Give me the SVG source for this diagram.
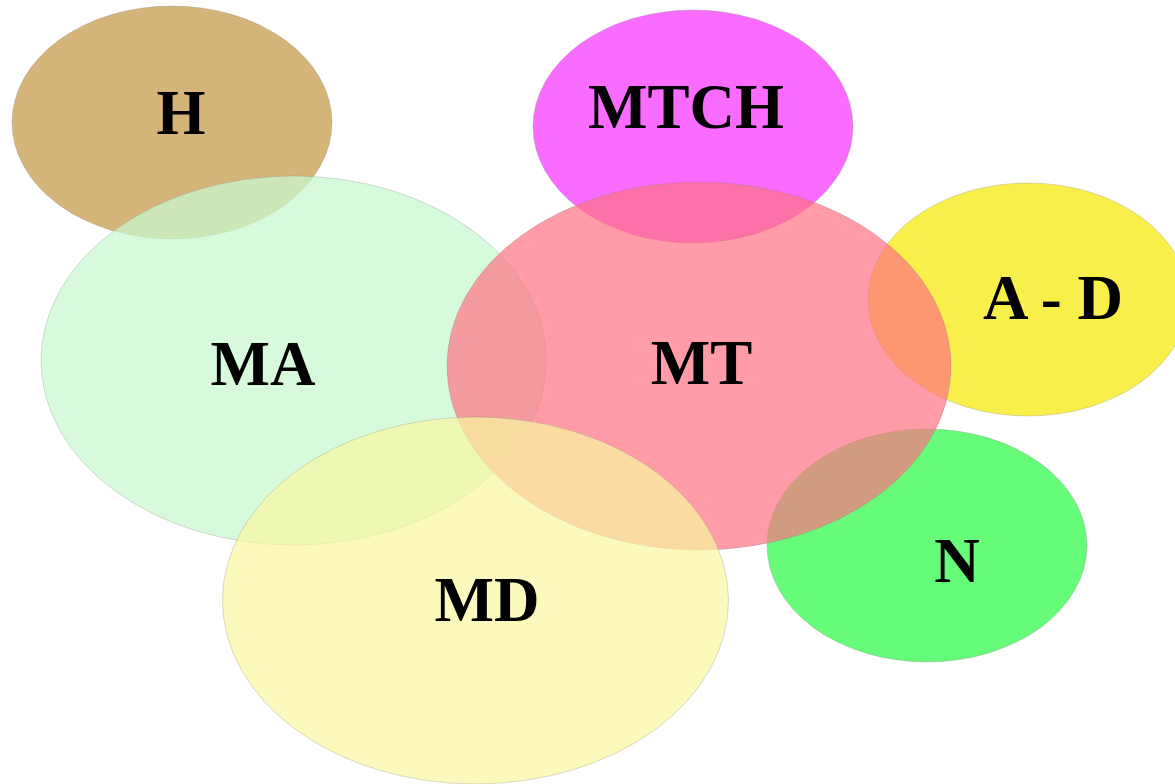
<svg xmlns="http://www.w3.org/2000/svg" width="1175" height="784" viewBox="0 0 1175 784">
<style>
.e{stroke:#888;stroke-opacity:0.3;stroke-width:1}
.t{font-family:"Liberation Serif","Times New Roman",serif;font-weight:bold;font-size:63px;fill:#000;text-anchor:middle}
</style>
<rect width="1175" height="784" fill="#fff"/>
<g id="node-H"><ellipse class="e" cx="172" cy="122.5" rx="160" ry="116.5" fill="#D4B478"/><text class="t" x="181" y="134">H</text></g>
<g id="node-MTCH"><ellipse class="e" cx="693" cy="126.5" rx="160" ry="116.5" fill="#FA6BFF"/><text class="t" x="686" y="128">MTCH</text></g>
<g id="node-AD"><ellipse class="e" cx="1028" cy="299.5" rx="160" ry="116.5" fill="#F8EF4A"/><text class="t" x="1053" y="319">A - D</text></g>
<g id="node-N"><ellipse class="e" cx="927" cy="545.5" rx="160" ry="116.5" fill="#66FB78"/><text class="t" x="957" y="582">N</text></g>
<g id="node-MA"><ellipse class="e" cx="293.5" cy="360.5" rx="252.5" ry="184.5" fill="rgb(201,248,207)" fill-opacity="0.73"/><text class="t" x="263" y="385">MA</text></g>
<g id="node-MT"><ellipse class="e" cx="699" cy="366" rx="252" ry="184" fill="rgb(255,114,131)" fill-opacity="0.7"/><text class="t" x="701.5" y="384">MT</text></g>
<g id="node-MD"><ellipse class="e" cx="475.5" cy="600.5" rx="253" ry="183.5" fill="rgb(250,246,160)" fill-opacity="0.7"/><text class="t" x="487" y="621">MD</text></g>
<g id="connectors"></g>
</svg>
